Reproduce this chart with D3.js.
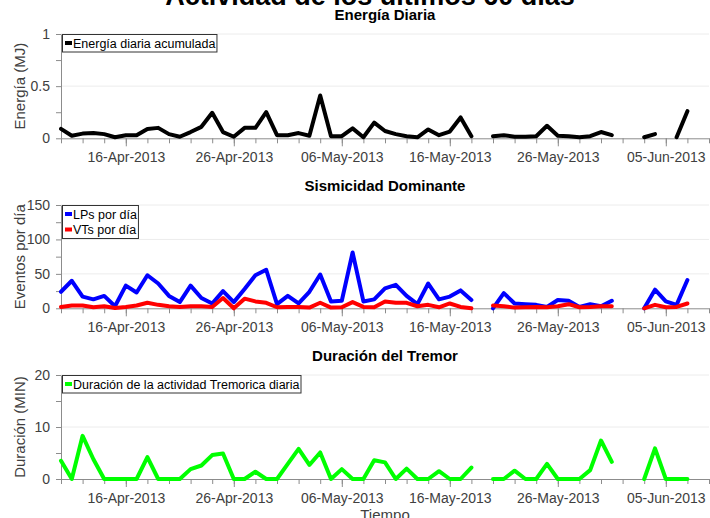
<!DOCTYPE html>
<html>
<head>
<meta charset="utf-8">
<script src="https://cdn.jsdelivr.net/npm/d3@7"></script>
<style>
  body { margin: 0; background: #fff; }
  svg { font-family: "Liberation Sans", Arial, sans-serif; display: block; }
</style>
</head>
<body>
<script>
// dias desde el 10-Apr-2013 hasta el 07-Jun-2013 (null = sin dato)
var days = d3.timeDay.range(new Date(2013, 3, 10), new Date(2013, 5, 8));

var energia = [0.09, 0.025, 0.045, 0.05, 0.04, 0.01, 0.03, 0.03, 0.09, 0.10,
  0.04, 0.015, 0.06, 0.11, 0.245, 0.06, 0.015, 0.10, 0.10, 0.25,
  0.03, 0.03, 0.05, 0.025, 0.41, 0.02, 0.02, 0.095, 0.01, 0.15,
  0.07, 0.04, 0.02, 0.01, 0.085, 0.03, 0.065, 0.20, 0.02, null,
  0.02, 0.03, 0.015, 0.015, 0.02, 0.12, 0.025, 0.02, 0.01, 0.02,
  0.06, 0.03, null, null, 0.01, 0.04, null, 0.01, 0.26];

var lps = [24, 40, 17, 13, 18, 3, 33, 23, 48, 36,
  18, 9, 33, 15, 7, 25, 9, 28, 48, 56,
  6, 18, 7, 24, 49, 10, 11, 81, 10, 13,
  29, 34, 18, 6, 36, 13, 17, 26, 12, null,
  0, 22, 7, 6, 5, 2, 12, 11, 2, 6,
  3, 11, null, null, 0, 27, 10, 5, 41];

var vts = [2, 4, 4, 1.5, 3, 0.5, 2, 4, 8, 5,
  3, 2, 3, 3, 2, 15, 0, 14, 10, 8,
  1.5, 2, 2, 1, 8, 1, 1.5, 9, 2, 1.5,
  10, 8, 8, 3, 5, 1.5, 7, 2, 0, null,
  4, 3, 1, 1.5, 2, 1.5, 3, 6, 1.5, 2,
  3, 3, null, null, 0, 5, 1.5, 2, 7];

var tremor = [3.5, 0, 8.3, 3.8, 0, 0, 0, 0, 4.2, 0,
  0, 0, 1.9, 2.6, 4.6, 4.9, 0, 0, 1.4, 0,
  0, 2.9, 5.8, 2.7, 5.1, 0, 1.9, 0, 0, 3.6,
  3.2, 0, 2.0, 0, 0, 1.5, 0, 0, 2.2, null,
  0, 0, 1.6, 0, 0, 2.9, 0, 0, 0, 1.7,
  7.4, 3.3, null, null, 0, 5.9, 0, 0, 0];

var labelDates = ["16-Apr-2013", "26-Apr-2013", "06-May-2013", "16-May-2013", "26-May-2013", "05-Jun-2013"];

var w = 710, h = 518;
var parse = d3.timeParse("%d-%b-%Y");
var fmt = d3.timeFormat("%d-%b-%Y");

var svg = d3.select("body").append("svg")
  .attr("width", w)
  .attr("height", h);

var x = d3.scaleTime()
  .domain([new Date(2013, 3, 10), new Date(2013, 5, 9)])
  .range([61, 709]);

var minorTicks = d3.timeDay.range(new Date(2013, 3, 10), new Date(2013, 5, 10), 2);
var majorTicks = labelDates.map(parse);

var panels = [
  { title: "Energía Diaria", ylabel: "Energía (MJ)", top: 34, bottom: 138.3, max: 1,
    ticks: [0, 0.25, 0.5, 0.75, 1], labels: [0, 0.5, 1], grid: [0.5, 1],
    series: [{ name: "Energía diaria acumulada", values: energia, color: "#000" }] },
  { title: "Sismicidad Dominante", ylabel: "Eventos por día", top: 205, bottom: 308.3, max: 150,
    ticks: [0, 25, 50, 75, 100, 125, 150], labels: [0, 50, 100, 150], grid: [50, 100, 150],
    series: [{ name: "LPs por día", values: lps, color: "#0000ff" },
             { name: "VTs por día", values: vts, color: "#ff0000" }] },
  { title: "Duración del Tremor", ylabel: "Duración (MIN)", top: 375, bottom: 479, max: 20,
    ticks: [0, 5, 10, 15, 20], labels: [0, 10, 20], grid: [10, 20],
    series: [{ name: "Duración de la actividad Tremorica diaria", values: tremor, color: "#00ff00" }] }
];

svg.append("text")
  .attr("x", 370).attr("y", 5)
  .attr("text-anchor", "middle")
  .style("font-size", "27px").style("font-weight", "bold")
  .text("Actividad de los últimos 60 días");

panels.forEach(function(p) {
  var y = d3.scaleLinear().domain([0, p.max]).range([p.bottom, p.top]);
  var g = svg.append("g");

  // grid
  g.selectAll(".grid").data(p.grid).enter().append("line")
    .attr("x1", 61).attr("x2", 709)
    .attr("y1", function(d) { return y(d); })
    .attr("y2", function(d) { return y(d); })
    .style("stroke", "#ececec");

  // eje y
  var yAxis = d3.axisLeft(y)
    .tickValues(p.ticks)
    .tickSize(5)
    .tickSizeOuter(0)
    .tickPadding(6)
    .tickFormat(function(d) { return p.labels.indexOf(d) >= 0 ? d3.format("")(d) : ""; });
  var ya = g.append("g").attr("transform", "translate(61,0)").call(yAxis);
  ya.selectAll("line, path").style("stroke", "#8c8c8c");
  ya.selectAll("text").style("font-size", "14px").style("fill", "#404040")
    .style("font-family", "Liberation Sans, Arial, sans-serif");

  // eje x
  var xa = g.append("g").attr("transform", "translate(0," + p.bottom + ")")
    .call(d3.axisBottom(x).tickValues(minorTicks).tickSize(5).tickSizeOuter(0).tickFormat(""));
  xa.selectAll("line, path").style("stroke", "#8c8c8c");
  var xb = g.append("g").attr("transform", "translate(0," + p.bottom + ")")
    .call(d3.axisBottom(x).tickValues(majorTicks).tickSize(8).tickPadding(6).tickFormat(fmt));
  xb.select("path").remove();
  xb.selectAll("line").style("stroke", "#8c8c8c");
  xb.selectAll("text").style("font-size", "14px").style("fill", "#404040")
    .style("font-family", "Liberation Sans, Arial, sans-serif");

  // titulos
  g.append("text")
    .attr("x", 385).attr("y", p.top - 14)
    .attr("text-anchor", "middle")
    .style("font-size", "15px").style("font-weight", "bold")
    .text(p.title);

  g.append("text")
    .attr("transform", "translate(25," + ((p.top + p.bottom) / 2) + ") rotate(-90)")
    .attr("text-anchor", "middle")
    .style("font-size", "15px").style("fill", "#404040")
    .text(p.ylabel);

  // lineas
  var line = d3.line()
    .defined(function(d) { return d != null; })
    .x(function(d, i) { return x(days[i]); })
    .y(function(d) { return y(d); });

  p.series.forEach(function(s) {
    g.append("path")
      .datum(s.values)
      .attr("d", line)
      .style("fill", "none")
      .style("stroke", s.color)
      .style("stroke-width", 4)
      .style("stroke-linejoin", "round")
      .style("stroke-linecap", "round");
  });

  // leyenda
  var lg = g.append("g");
  var box = lg.append("rect")
    .attr("x", 62.5).attr("y", p.top + 0.5)
    .style("fill", "#fff").style("stroke", "#333");
  var maxW = 0;
  p.series.forEach(function(s, i) {
    var cy = p.top + 9 + i * 15.5;
    lg.append("line")
      .attr("x1", 65).attr("x2", 72)
      .attr("y1", cy).attr("y2", cy)
      .style("stroke", s.color).style("stroke-width", 4);
    var t = lg.append("text")
      .attr("x", 73).attr("y", cy + 4.5)
      .style("font-size", "12.5px")
      .text(s.name);
    maxW = Math.max(maxW, t.node().getComputedTextLength());
  });
  box.attr("width", maxW + 12).attr("height", p.series.length * 15.5 + 2);
});

svg.append("text")
  .attr("x", 385).attr("y", 520)
  .attr("text-anchor", "middle")
  .style("font-size", "15px").style("fill", "#404040")
  .text("Tiempo");
</script>
</body>
</html>
